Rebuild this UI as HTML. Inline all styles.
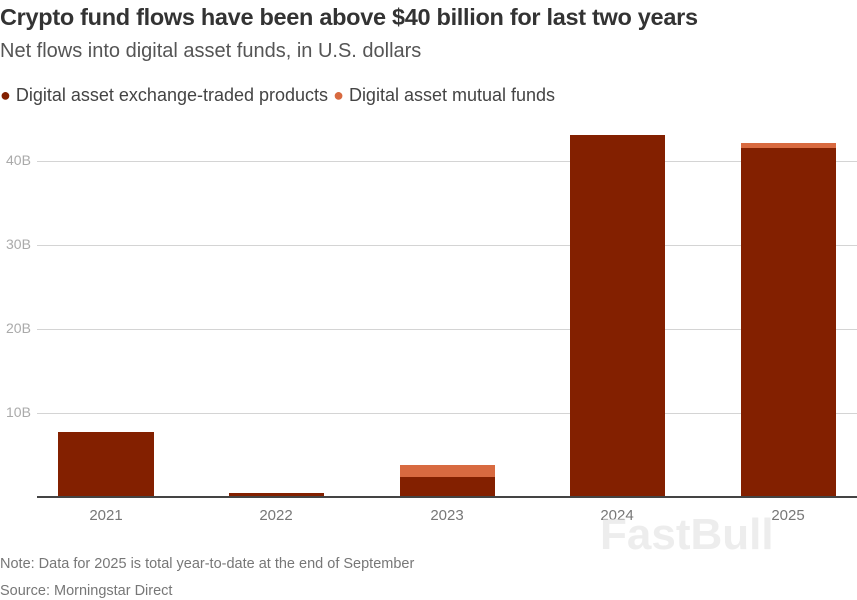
<!DOCTYPE html>
<html><head><style>
body{margin:0;background:#fff;width:857px;height:600px;overflow:hidden;position:relative;font-family:"Liberation Sans",sans-serif}
.t{position:absolute;white-space:nowrap}
.bar{position:absolute}
.d{background:#832000}.o{background:#d86a40}
.g{position:absolute;left:37px;right:0;height:1px;background:#d4d4d4}
.yl{position:absolute;left:6px;font-size:14px;color:#aaa}
.xl{position:absolute;top:507px;font-size:15px;color:#777;width:96px;text-align:center}
</style></head><body>
<div class="t" style="left:0;top:4px;font-size:23.5px;font-weight:bold;color:#333;letter-spacing:-0.3px">Crypto fund flows have been above $40 billion for last two years</div>
<div class="t" style="left:0;top:40px;font-size:20px;color:#555">Net flows into digital asset funds, in U.S. dollars</div>
<div class="t" style="left:0;top:85px;font-size:18px;color:#444"><span style="color:#832000">●</span> Digital asset exchange-traded products <span style="color:#d86a40">●</span> Digital asset mutual funds</div>
<div class="g" style="top:161px"></div><div class="yl" style="top:152px">40B</div>
<div class="g" style="top:245px"></div><div class="yl" style="top:236px">30B</div>
<div class="g" style="top:329px"></div><div class="yl" style="top:320px">20B</div>
<div class="g" style="top:413px"></div><div class="yl" style="top:404px">10B</div>
<div class="bar d" style="left:58px;width:96px;top:432px;height:65px"></div>
<div class="bar d" style="left:229px;width:95px;top:493px;height:4px"></div>
<div class="bar o" style="left:400px;width:95px;top:465px;height:12px"></div>
<div class="bar d" style="left:400px;width:95px;top:477px;height:20px"></div>
<div class="bar d" style="left:570px;width:95px;top:135px;height:362px"></div>
<div class="bar o" style="left:741px;width:95px;top:143px;height:5px"></div>
<div class="bar d" style="left:741px;width:95px;top:148px;height:349px"></div>
<div style="position:absolute;left:37px;right:0;top:496px;height:2px;background:#444"></div>
<div class="xl" style="left:58px">2021</div>
<div class="xl" style="left:228px">2022</div>
<div class="xl" style="left:399px">2023</div>
<div class="xl" style="left:569px">2024</div>
<div class="xl" style="left:740px">2025</div>
<div class="t" style="left:0;top:556px;font-size:14.5px;color:#777">Note: Data for 2025 is total year-to-date at the end of September</div>
<div class="t" style="left:0;top:583px;font-size:14.5px;color:#777">Source: Morningstar Direct</div>
<div class="t" style="left:600px;top:510px;font-size:44px;font-weight:bold;color:rgba(225,225,225,0.6)">FastBull</div>
</body></html>
